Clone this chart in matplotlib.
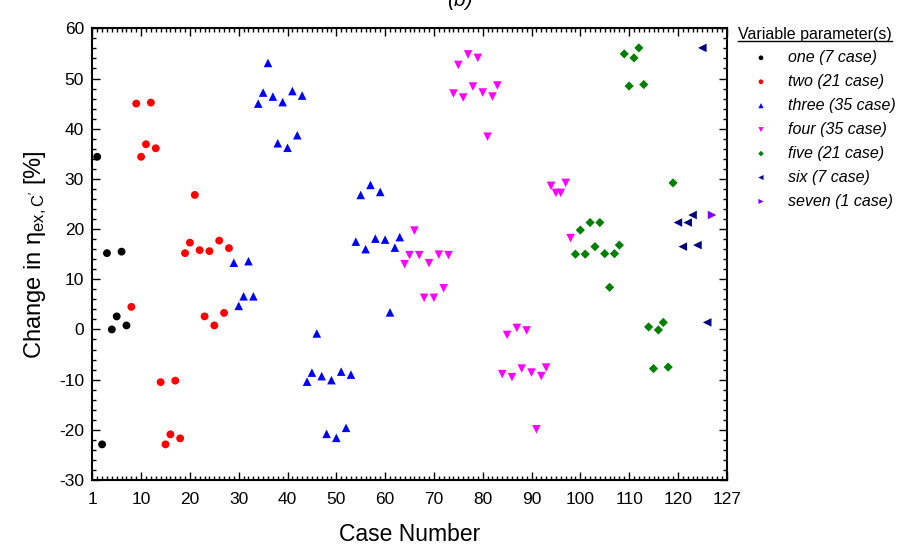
import matplotlib
matplotlib.use('Agg')
import matplotlib.pyplot as plt
from matplotlib.lines import Line2D
from matplotlib.ticker import MultipleLocator, FixedLocator

plt.rcParams['font.family'] = ['Liberation Sans', 'DejaVu Sans']
plt.rcParams['mathtext.fontset'] = 'custom'
plt.rcParams['mathtext.rm'] = 'Liberation Sans'
plt.rcParams['mathtext.it'] = 'Liberation Sans:italic'
plt.rcParams['axes.unicode_minus'] = False

# ---------------- data ----------------
one_cases = list(range(1, 8))
one_vals = [34.4, -22.9, 15.2, 0.0, 2.6, 15.5, 0.8]

two_cases = list(range(8, 29))
two_vals = [4.5, 45.0, 34.4, 36.9, 45.2, 36.1, -10.5, -22.9, -20.9, -10.2, -21.7,
            15.2, 17.3, 26.8, 15.8, 2.6, 15.6, 0.8, 17.7, 3.3, 16.2]

three_cases = list(range(29, 64))
three_vals = [13.3, 4.7, 6.6, 13.6, 6.6,
              45.0, 47.2, 53.1, 46.4, 37.1, 45.3, 36.2, 47.5, 38.7, 46.6,
              -10.4, -8.6, -0.8, -9.3, -20.8, -10.1, -21.6, -8.4, -19.6, -9.0,
              17.5, 26.8, 16.0, 28.8, 18.1, 27.4, 17.9, 3.4, 16.3, 18.4]

four_cases = list(range(64, 99))
four_vals = [13.0, 14.8, 19.7, 14.8, 6.3, 13.2, 6.3, 14.9, 8.2, 14.8,
             47.0, 52.7, 46.2, 54.8, 48.4, 54.1, 47.2, 38.4, 46.4, 48.6,
             -8.9, -1.1, -9.5, 0.3, -7.8, -0.2, -8.6, -19.9, -9.3, -7.6,
             28.6, 27.2, 27.2, 29.2, 18.2]

five_cases = list(range(99, 120))
five_vals = [15.0, 19.8, 15.0, 21.3, 16.5, 21.3, 15.1, 8.4, 15.1, 16.8,
             54.9, 48.5, 54.1, 56.1, 48.8, 0.5, -7.8, -0.1, 1.4, -7.5, 29.2]

six_cases = list(range(120, 127))
six_vals = [21.3, 16.5, 21.3, 22.8, 16.8, 56.1, 1.4]

seven_cases = [127]
seven_vals = [22.8]

series_labels = ['one (7 case)', 'two (21 case)', 'three (35 case)', 'four (35 case)',
                 'five (21 case)', 'six (7 case)', 'seven (1 case)']

xtick_pos = [0, 10, 20, 30, 40, 50, 60, 70, 80, 90, 100, 110, 120, 130]
xtick_labels = ['1', '10', '20', '30', '40', '50', '60', '70', '80', '90',
                '100', '110', '120', '127']

# ---------------- styles ----------------
styles = [
    dict(marker='o', color='black', s=32),
    dict(marker='o', color='#FF0000', s=32),
    dict(marker='^', color='#0000FF', s=38),
    dict(marker='v', color='#FF00FF', s=38),
    dict(marker='D', color='#008000', s=22),
    dict(marker='<', color='#000080', s=38),
    dict(marker='>', color='#8000FF', s=38),
]

fig = plt.figure(figsize=(9.05, 5.52), dpi=100)
ax = fig.add_axes([0.102, 0.1304, 0.701, 0.8183])

data = [(one_cases, one_vals), (two_cases, two_vals), (three_cases, three_vals),
        (four_cases, four_vals), (five_cases, five_vals), (six_cases, six_vals),
        (seven_cases, seven_vals)]

handles = []
for (xs, ys), st, lab in zip(data, styles, series_labels):
    h = ax.scatter(xs, ys, marker=st['marker'], s=st['s'], c=st['color'],
                   edgecolors='none', label=lab, zorder=3, clip_on=False)
    handles.append(h)

ax.set_xlim(0, 130)
ax.set_ylim(-30, 60)
ax.xaxis.set_major_locator(FixedLocator(xtick_pos))
ax.set_xticklabels(xtick_labels)
ax.xaxis.set_minor_locator(MultipleLocator(1))
ax.yaxis.set_major_locator(MultipleLocator(10))
ax.yaxis.set_minor_locator(MultipleLocator(2))

ax.tick_params(which='both', direction='in', top=True, right=True, width=1.0,
               labelsize=12.5)
ax.tick_params(which='major', length=6)
ax.tick_params(which='minor', length=3)
ax.tick_params(axis='x', pad=8.5)
ax.tick_params(axis='y', pad=6)

for sp in ax.spines.values():
    sp.set_linewidth(1.5)

ax.set_xlabel('Case Number', fontsize=16.5, labelpad=12)
ax.set_ylabel("Change in η$_{\\mathregular{ex,C'}}$ [%]", fontsize=17, labelpad=7)

# partially visible panel title
fig.text(460 / 905, 1.0, '(b)', style='italic', fontsize=15, ha='center', va='center')

# legend title with underline
tx = fig.text(738 / 905, 1 - 35 / 552, 'Variable parameter(s)', fontsize=11.5,
              ha='left', va='center')
fig.canvas.draw()
bb = tx.get_window_extent().transformed(fig.transFigure.inverted())
fig.add_artist(Line2D([bb.x0, bb.x1], [bb.y0 + 0.002, bb.y0 + 0.002],
                      transform=fig.transFigure, color='black', lw=1.0))

leg = ax.legend(handles=handles, labels=series_labels, loc='upper left',
                bbox_to_anchor=(745 / 905, 1 - 50 / 552),
                bbox_transform=fig.transFigure, frameon=False,
                markerscale=0.6, handletextpad=0.7, labelspacing=0.56,
                borderpad=0, borderaxespad=0,
                prop=dict(style='italic', size=11.5))

fig.savefig('out.png', dpi=100)
